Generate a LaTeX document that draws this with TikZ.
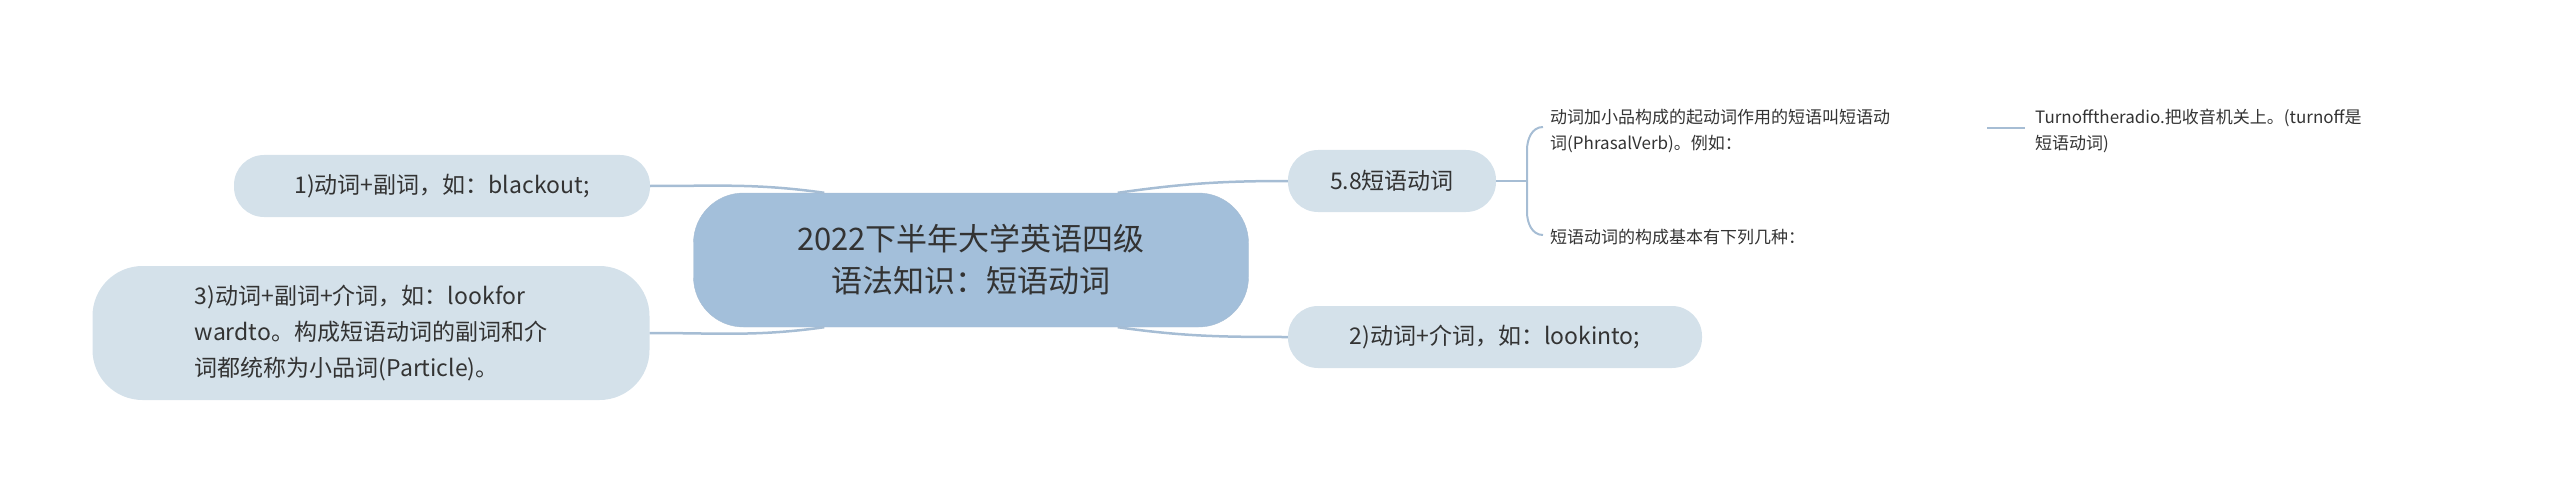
\documentclass[tikz,border=0pt]{standalone}
\usepackage{fontspec}
\setmainfont{Noto Sans CJK SC}
\usetikzlibrary{calc}
\definecolor{cfill}{HTML}{A3BFDA}
\definecolor{lfill}{HTML}{D4E1EA}
\definecolor{lnk}{HTML}{A6BDD4}
\definecolor{txt}{HTML}{333333}
\begin{document}
\begin{tikzpicture}[x=1pt,y=-1pt,
  center/.style={fill=cfill,draw=lnk,rounded corners=50pt,minimum width=555pt,minimum height=134pt,align=center,text=txt,font=\fontsize{31}{42}\selectfont},
  leaf/.style={fill=lfill,rounded corners=30pt,minimum height=62pt,align=left,text=txt,font=\fontsize{23}{36}\selectfont},
  small/.style={align=left,anchor=west,text=txt,font=\fontsize{17}{26}\selectfont,inner sep=0pt},
  link/.style={draw=lnk,line width=2.5pt}]
\useasboundingbox (0,0) rectangle (2560,492);
\node[center] (c) at (971,260) {2022下半年大学英语四级\\语法知识：短语动词};
\node[leaf,minimum width=416pt] (n1) at (442,186) {1)动词+副词，如：blackout;};
\node[leaf,minimum width=557pt,minimum height=134pt,rounded corners=50pt] (n3) at (371,333) {3)动词+副词+介词，如：lookfor\\wardto。构成短语动词的副词和介\\词都统称为小品词(Particle)。};
\node[leaf,minimum width=208pt] (n58) at (1392,181) {5.8短语动词};
\node[leaf,minimum width=414pt] (n2) at (1495,337) {2)动词+介词，如：lookinto;};
\node[small] (t1) at (1550,131) {动词加小品构成的起动词作用的短语叫短语动\\词(PhrasalVerb)。例如：};
\node[small] (t2) at (1550,237) {短语动词的构成基本有下列几种：};
\node[small] (t3) at (2035,131) {Turnofftheradio.把收音机关上。(turnoff是\\短语动词)};
\begin{scope}[on background layer/.try]
\end{scope}
\draw[link] ($(c.north west)+(131,0)$) to[out=172,in=0] (n1.east);
\draw[link] ($(c.south west)+(131,0)$) to[out=188,in=0] (n3.east);
\draw[link] ($(c.north east)+(-131,0)$) to[out=8,in=180] (n58.west);
\draw[link] ($(c.south east)+(-131,0)$) to[out=-8,in=180] (n2.west);
\coordinate (b) at (1527,181);
\draw[link,line width=2pt] (n58.east) -- (b);
\draw[link,line width=2pt] (1543,127) to[out=180,in=90] (1527,150) -- (1527,212) to[out=-90,in=180] (1543,235);
\draw[link,line width=2pt] (1987,128) -- (2025,128);
\end{tikzpicture}
\end{document}
